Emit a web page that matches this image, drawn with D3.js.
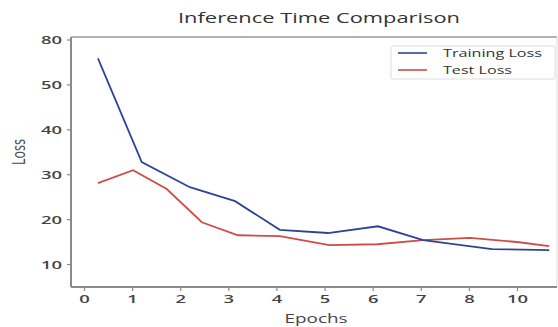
<!DOCTYPE html>
<html>
  <head>
    <meta charset="utf-8" />
    <title>Inference Time Comparison</title>
    <script src="https://d3js.org/d3.v7.min.js"></script>
    <style>
      body { margin: 0; background: #fff; font-family: "Open Sans", sans-serif; }
      svg { display: block; }
      text { font-family: "Open Sans", sans-serif; }
    </style>
  </head>
  <body>
    <svg width="558" height="327"></svg>
    <script>
      // Data
      const trainEpochs = [0.29, 1.2, 2.2, 3.14, 4.07, 5.07, 6.11, 7.05, 8.0, 8.48, 9.67];
      const trainLoss   = [55.8, 32.7, 27.1, 24.0, 17.6, 16.9, 18.4, 15.3, 14.0, 13.3, 13.1];
      const testEpochs  = [0.29, 1.02, 1.72, 2.45, 3.2, 4.07, 5.1, 6.1, 7.05, 8.02, 9.0, 9.67];
      const testLoss    = [28.0, 30.9, 26.7, 19.3, 16.4, 16.2, 14.2, 14.4, 15.3, 15.8, 14.9, 14.0];

      const xTicks = [0, 1, 2, 3, 4, 5, 6, 7, 8, 9];
      const xTickLabels = ["0", "1", "2", "3", "4", "5", "6", "7", "8", "10"];
      const yTicks = [10, 20, 30, 40, 50, 60];
      const yTickLabels = ["10", "20", "30", "40", "50", "80"];

      const svg = d3.select("svg");
      const plotLeft = 71, plotRight = 557, plotTop = 37, plotBottom = 287;

      const x = d3.scaleLinear().domain([0, 9]).range([84, 517]);
      const y = d3.scaleLinear().domain([10, 60]).range([264, 39.5]);

      const axisColor = "#8a8a8a";
      const textColor = "#444";

      // the source picture is stretched sideways, so widen the glyphs
      function widen(sel, factor) {
        sel.each(function () {
          const w = this.getComputedTextLength();
          d3.select(this).attr("textLength", w * factor).attr("lengthAdjust", "spacingAndGlyphs");
        });
      }

      // frame
      svg.append("line").attr("x1", plotLeft).attr("x2", plotRight).attr("y1", plotTop).attr("y2", plotTop)
        .attr("stroke", "#999").attr("stroke-width", 1.5);
      svg.append("line").attr("x1", plotRight).attr("x2", plotRight).attr("y1", plotTop).attr("y2", plotBottom)
        .attr("stroke", "#ddd").attr("stroke-width", 1);

      const xAxis = svg.append("g").attr("transform", `translate(0,${plotBottom})`)
        .call(d3.axisBottom(x).tickValues(xTicks).tickFormat((d, i) => xTickLabels[i]).tickSize(4).tickSizeOuter(0));
      xAxis.select(".domain").attr("d", `M${plotLeft},0H${plotRight}`);

      const yAxis = svg.append("g").attr("transform", `translate(${plotLeft},0)`)
        .call(d3.axisLeft(y).tickValues(yTicks).tickFormat((d, i) => yTickLabels[i]).tickSize(4).tickSizeOuter(0));
      yAxis.select(".domain").attr("d", `M0,${plotTop}V${plotBottom}`);

      svg.selectAll(".domain").attr("stroke", axisColor).attr("stroke-width", 2);
      svg.selectAll(".tick line").attr("stroke", axisColor).attr("stroke-width", 1.2);
      svg.selectAll(".tick text").attr("fill", textColor)
        .style("font-size", "11.5px").style("font-weight", 600);
      xAxis.selectAll(".tick text").attr("y", 16).attr("dy", 0);
      yAxis.selectAll(".tick text").attr("x", -9).attr("dy", "0.35em");
      widen(svg.selectAll(".tick text"), 1.6);

      const line = d3.line().x(d => x(d[0])).y(d => y(d[1]));

      svg.append("path")
        .datum(testEpochs.map((e, i) => [e, testLoss[i]]))
        .attr("d", line).attr("fill", "none")
        .attr("stroke", "#cd4d4a").attr("stroke-width", 1.8);

      svg.append("path")
        .datum(trainEpochs.map((e, i) => [e, trainLoss[i]]))
        .attr("d", line).attr("fill", "none")
        .attr("stroke", "#2e4596").attr("stroke-width", 1.8);

      // titles
      svg.append("text").attr("x", 319).attr("y", 23).attr("text-anchor", "middle")
        .attr("fill", "#333").style("font-size", "14px").style("font-weight", 500)
        .attr("textLength", 282).attr("lengthAdjust", "spacingAndGlyphs")
        .text("Inference Time Comparison");
      svg.append("text").attr("x", 316).attr("y", 323).attr("text-anchor", "middle")
        .attr("fill", textColor).style("font-size", "13.5px").style("font-weight", 500)
        .attr("textLength", 63).attr("lengthAdjust", "spacingAndGlyphs")
        .text("Epochs");
      svg.append("text").attr("transform", "translate(25,152) scale(1.4,1) rotate(-90)").attr("text-anchor", "middle")
        .attr("fill", textColor).style("font-size", "12.5px").text("Loss");

      // legend
      const legend = svg.append("g");
      legend.append("rect").attr("x", 391).attr("y", 46).attr("width", 164).attr("height", 33)
        .attr("fill", "#fff").attr("stroke", "#ddd").attr("rx", 2);
      const legendItems = [["Training Loss", "#2e4596", 99], ["Test Loss", "#cd4d4a", 69]];
      legendItems.forEach((it, i) => {
        const yy = 53 + i * 17;
        legend.append("line").attr("x1", 398).attr("x2", 427).attr("y1", yy).attr("y2", yy)
          .attr("stroke", it[1]).attr("stroke-width", 1.6);
        legend.append("text").attr("x", 443).attr("y", yy + 4).attr("fill", "#333")
          .style("font-size", "11.5px").style("font-weight", 500)
          .attr("textLength", it[2]).attr("lengthAdjust", "spacingAndGlyphs")
          .text(it[0]);
      });
    </script>
  </body>
</html>
